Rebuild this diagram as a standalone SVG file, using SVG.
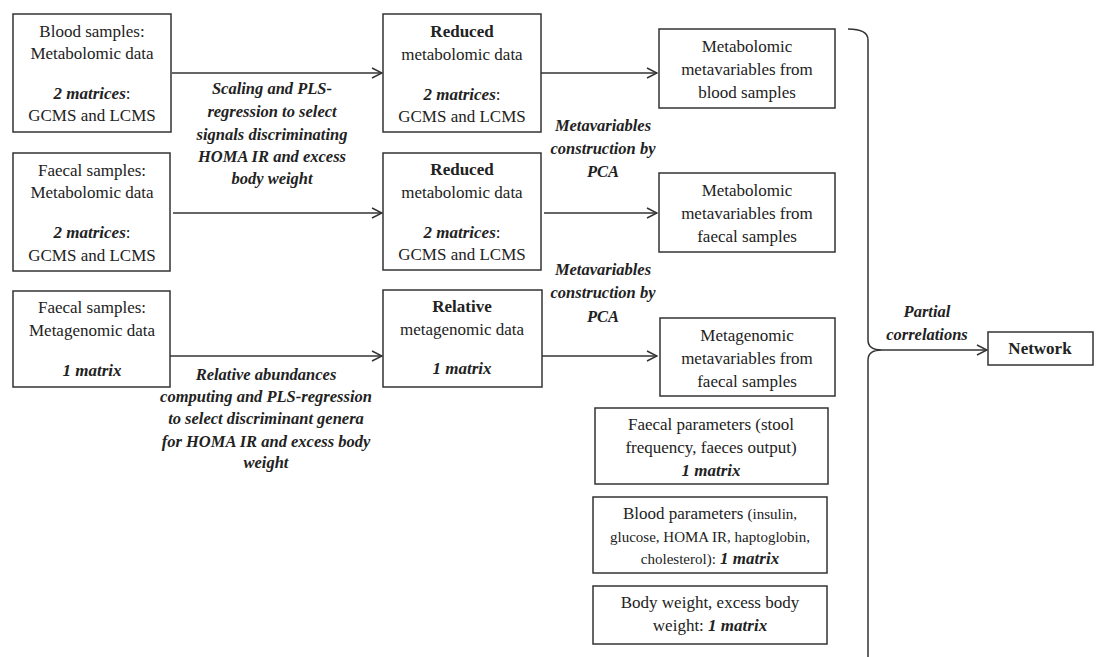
<svg xmlns="http://www.w3.org/2000/svg" width="1097" height="657" viewBox="0 0 1097 657" font-family="Liberation Serif, Times New Roman, Times, serif">
<style>
.box{fill:#fff;stroke:#333;stroke-width:1.5}
.ln{fill:none;stroke:#333;stroke-width:1.5}
text{fill:#222;text-anchor:middle}
.t{font-size:17px}
.lb{font-size:16.5px;font-weight:bold;font-style:italic}
.bi{font-weight:bold;font-style:italic}
.b{font-weight:bold}
.s{font-size:15px}
</style>
<defs>
<marker id="arr" viewBox="0 0 12 12" refX="11" refY="6" markerWidth="12" markerHeight="12" markerUnits="userSpaceOnUse" orient="auto">
<path d="M1,1 L11,6 L1,11" fill="none" stroke="#333" stroke-width="1.5"/>
</marker>
</defs>
<rect width="1097" height="657" fill="#fff"/>

<g id="connectors">
<line class="ln" x1="172" y1="73" x2="382" y2="73" marker-end="url(#arr)"/>
<line class="ln" x1="173" y1="213" x2="382" y2="213" marker-end="url(#arr)"/>
<line class="ln" x1="170" y1="356" x2="382" y2="356" marker-end="url(#arr)"/>
<line class="ln" x1="541" y1="73" x2="657" y2="73" marker-end="url(#arr)"/>
<line class="ln" x1="544" y1="213" x2="657" y2="213" marker-end="url(#arr)"/>
<line class="ln" x1="541" y1="356" x2="657" y2="356" marker-end="url(#arr)"/>
<path class="ln" d="M848,29 Q868,29 868,40 L868,340 Q868,350 882,350 Q868,350 868,360 L868,657"/>
<line class="ln" x1="882" y1="350" x2="987" y2="350" marker-end="url(#arr)"/>
<g id="label-scaling">
<text class="lb" x="272" y="94">Scaling and PLS-</text>
<text class="lb" x="272" y="117">regression to select</text>
<text class="lb" x="272" y="140">signals discriminating</text>
<text class="lb" x="272" y="162">HOMA IR and excess</text>
<text class="lb" x="272" y="184">body weight</text>
</g>
<g id="label-relative">
<text class="lb" x="266" y="380">Relative abundances</text>
<text class="lb" x="266" y="402">computing and PLS-regression</text>
<text class="lb" x="266" y="424">to select discriminant genera</text>
<text class="lb" x="266" y="447">for HOMA IR and excess body</text>
<text class="lb" x="266" y="468">weight</text>
</g>
<g id="label-pca1">
<text class="lb" x="603" y="131">Metavariables</text>
<text class="lb" x="603" y="154">construction by</text>
<text class="lb" x="603" y="177">PCA</text>
</g>
<g id="label-pca2">
<text class="lb" x="603" y="275">Metavariables</text>
<text class="lb" x="603" y="298">construction by</text>
<text class="lb" x="603" y="322">PCA</text>
</g>
<g id="label-partial">
<text class="lb" x="927" y="317">Partial</text>
<text class="lb" x="927" y="340">correlations</text>
</g>
</g>

<g id="blood-metabolomic">
<rect class="box" x="13" y="14" width="158" height="118"/>
<text class="t" x="92" y="37">Blood samples:</text>
<text class="t" x="92" y="59">Metabolomic data</text>
<text class="t" x="92" y="99"><tspan class="bi">2 matrices</tspan>:</text>
<text class="t" x="92" y="121">GCMS and LCMS</text>
</g>
<g id="faecal-metabolomic">
<rect class="box" x="13" y="153" width="157" height="118"/>
<text class="t" x="92" y="176">Faecal samples:</text>
<text class="t" x="92" y="198">Metabolomic data</text>
<text class="t" x="92" y="238"><tspan class="bi">2 matrices</tspan>:</text>
<text class="t" x="92" y="261">GCMS and LCMS</text>
</g>
<g id="faecal-metagenomic">
<rect class="box" x="13" y="291" width="157" height="96"/>
<text class="t" x="92" y="313">Faecal samples:</text>
<text class="t" x="92" y="336">Metagenomic data</text>
<text class="t bi" x="92" y="376">1 matrix</text>
</g>

<g id="reduced-blood">
<rect class="box" x="383" y="14" width="158" height="118"/>
<text class="t b" x="462" y="37">Reduced</text>
<text class="t" x="462" y="60">metabolomic data</text>
<text class="t" x="462" y="100"><tspan class="bi">2 matrices</tspan>:</text>
<text class="t" x="462" y="122">GCMS and LCMS</text>
</g>
<g id="reduced-faecal">
<rect class="box" x="383" y="153" width="158" height="117"/>
<text class="t b" x="462" y="175">Reduced</text>
<text class="t" x="462" y="198">metabolomic data</text>
<text class="t" x="462" y="238"><tspan class="bi">2 matrices</tspan>:</text>
<text class="t" x="462" y="260">GCMS and LCMS</text>
</g>
<g id="relative-metagenomic">
<rect class="box" x="383" y="290" width="159" height="97"/>
<text class="t b" x="462" y="312">Relative</text>
<text class="t" x="462" y="335">metagenomic data</text>
<text class="t bi" x="462" y="374">1 matrix</text>
</g>

<g id="meta-blood">
<rect class="box" x="659" y="29" width="176" height="79"/>
<text class="t" x="747" y="52">Metabolomic</text>
<text class="t" x="747" y="75">metavariables from</text>
<text class="t" x="747" y="98">blood samples</text>
</g>
<g id="meta-faecal">
<rect class="box" x="659" y="173" width="176" height="79"/>
<text class="t" x="747" y="196">Metabolomic</text>
<text class="t" x="747" y="219">metavariables from</text>
<text class="t" x="747" y="242">faecal samples</text>
</g>
<g id="metagenomic-faecal">
<rect class="box" x="660" y="318" width="175" height="78"/>
<text class="t" x="747" y="341">Metagenomic</text>
<text class="t" x="747" y="364">metavariables from</text>
<text class="t" x="747" y="387">faecal samples</text>
</g>
<g id="faecal-parameters">
<rect class="box" x="595" y="408" width="233" height="76"/>
<text class="t" x="711" y="430">Faecal parameters (stool</text>
<text class="t" x="711" y="453">frequency, faeces output)</text>
<text class="t bi" x="711" y="476">1 matrix</text>
</g>
<g id="blood-parameters">
<rect class="box" x="593" y="497" width="234" height="76"/>
<text class="t" x="710" y="519">Blood parameters <tspan class="s">(insulin,</tspan></text>
<text class="t s" x="710" y="542">glucose, HOMA IR, haptoglobin,</text>
<text class="t" x="710" y="564"><tspan class="s">cholesterol):</tspan> <tspan class="bi">1 matrix</tspan></text>
</g>
<g id="body-weight">
<rect class="box" x="593" y="586" width="234" height="58"/>
<text class="t" x="710" y="608">Body weight, excess body</text>
<text class="t" x="710" y="631">weight: <tspan class="bi">1 matrix</tspan></text>
</g>
<g id="network">
<rect class="box" x="988" y="332" width="105" height="33"/>
<text class="t b" x="1040" y="354">Network</text>
</g>
</svg>
